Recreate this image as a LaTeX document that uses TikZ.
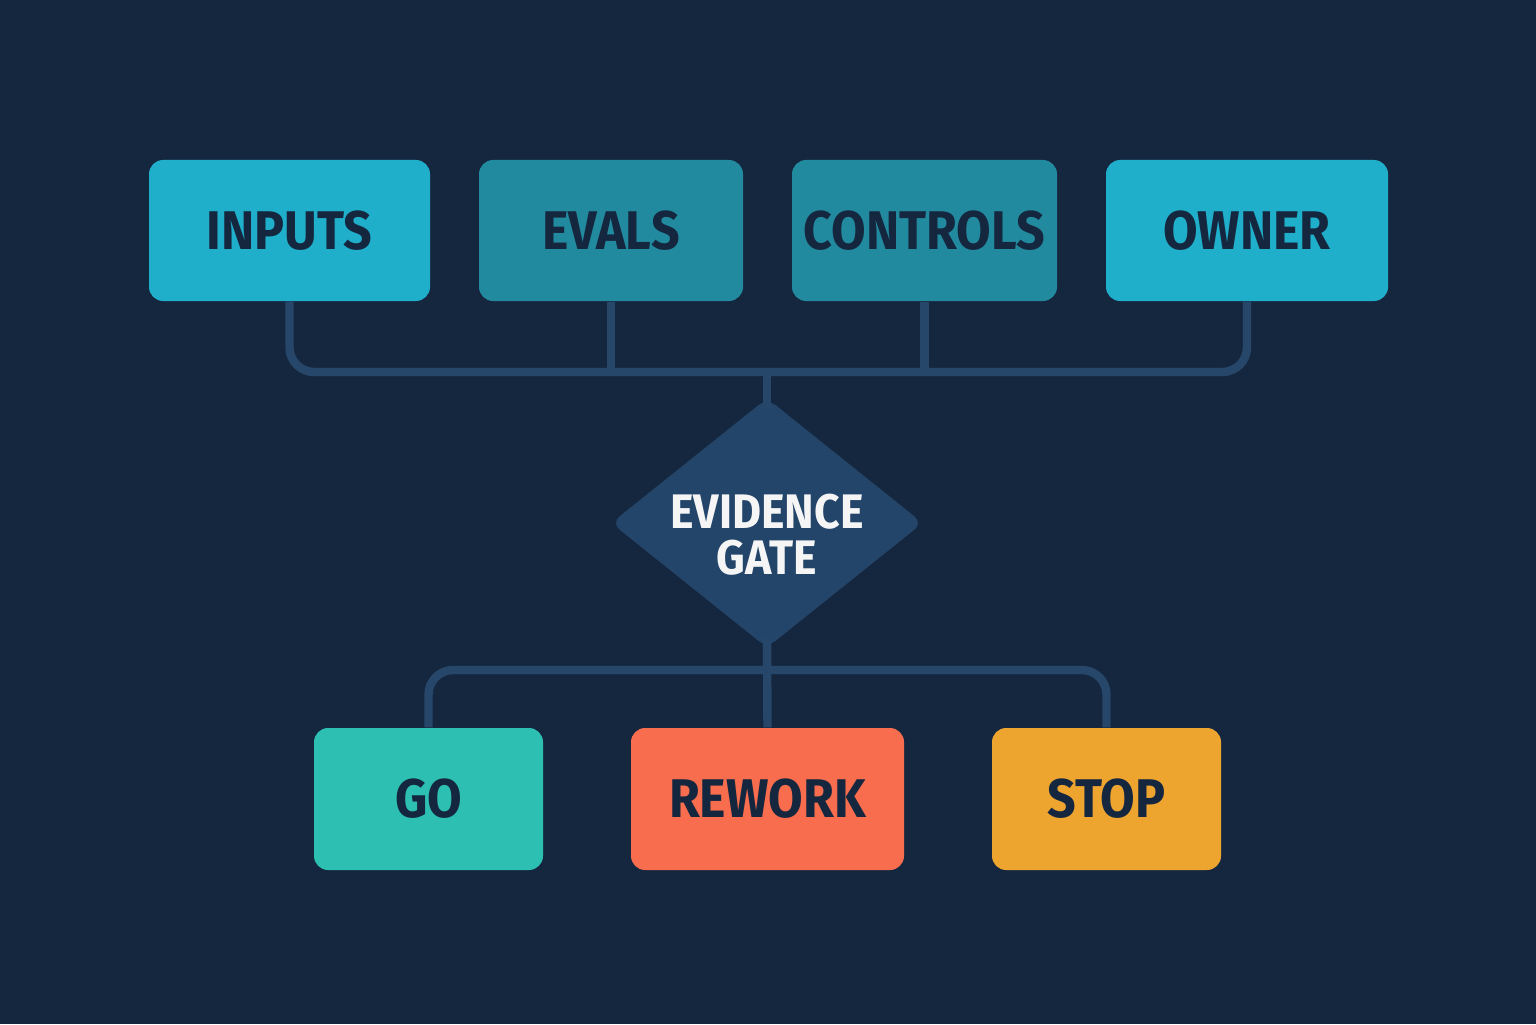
\documentclass[tikz,border=0pt]{standalone}
\usepackage{fontspec}
\setmainfont[FakeStretch=0.92]{Fira Sans}
\usetikzlibrary{shapes.geometric}
\definecolor{bgc}{HTML}{15273F}
\definecolor{linec}{HTML}{27476A}
\definecolor{cyanA}{HTML}{1FAFCB}
\definecolor{cyanB}{HTML}{228A9F}
\definecolor{gatec}{HTML}{24456A}
\definecolor{goc}{HTML}{2CBFB2}
\definecolor{reworkc}{HTML}{F76D4E}
\definecolor{stopc}{HTML}{EEA530}
\definecolor{textc}{HTML}{15273F}
\begin{document}
\begin{tikzpicture}[line join=round,
	box/.style={rounded corners=4pt, minimum height=1.41cm, inner sep=0pt, text=textc, font=\fontsize{15.5}{18}\selectfont\bfseries},
	gate/.style={diamond, aspect=1.25, minimum width=3.12cm, minimum height=2.5cm, inner sep=0pt, fill=gatec, rounded corners=3pt},
	bus/.style={draw=linec, line width=2.4pt, rounded corners=7pt}]
	\fill[bgc] (0,0) rectangle (15.36,10.24);
	\def\ybus{6.52} \def\ylow{3.54} % bus lines
	% top boxes
	\node[box, fill=cyanA, minimum width=2.81cm] (inputs) at (2.895,7.935) {INPUTS};
	\node[box, fill=cyanB, minimum width=2.64cm] (evals) at (6.11,7.935) {EVALS};
	\node[box, fill=cyanB, minimum width=2.65cm] (controls) at (9.245,7.935) {CONTROLS};
	\node[box, fill=cyanA, minimum width=2.82cm] (owner) at (12.47,7.935) {OWNER};
	% gate
	\node[gate] (gate) at (7.67,5.01) {};
	\node[align=center, text=white!92!gray, font=\fontsize{13.8}{13}\selectfont\bfseries] (gatelbl) at ([yshift=-0.12cm]gate.center) {EVIDENCE\\GATE};
	% outcomes
	\node[box, fill=goc, minimum width=2.29cm, minimum height=1.42cm] (go) at (4.285,2.25) {GO};
	\node[box, fill=reworkc, minimum width=2.73cm, minimum height=1.42cm] (rework) at (7.675,2.25) {REWORK};
	\node[box, fill=stopc, minimum width=2.29cm, minimum height=1.42cm] (stop) at (11.065,2.25) {STOP};
	% connectors
	\draw[bus] (inputs.south) |- (owner.south |- 0,\ybus) -- (owner.south);
	\draw[bus] (evals.south) -- (evals.south |- 0,\ybus);
	\draw[bus] (controls.south) -- (controls.south |- 0,\ybus);
	\draw[bus] (gate.north |- 0,\ybus) -- ([yshift=-3pt]gate.north);
	\draw[bus] (go.north) |- (stop.north |- 0,\ylow) -- (stop.north);
	\draw[bus] ([yshift=3pt]gate.south) -- (rework.north);
\end{tikzpicture}
\end{document}
